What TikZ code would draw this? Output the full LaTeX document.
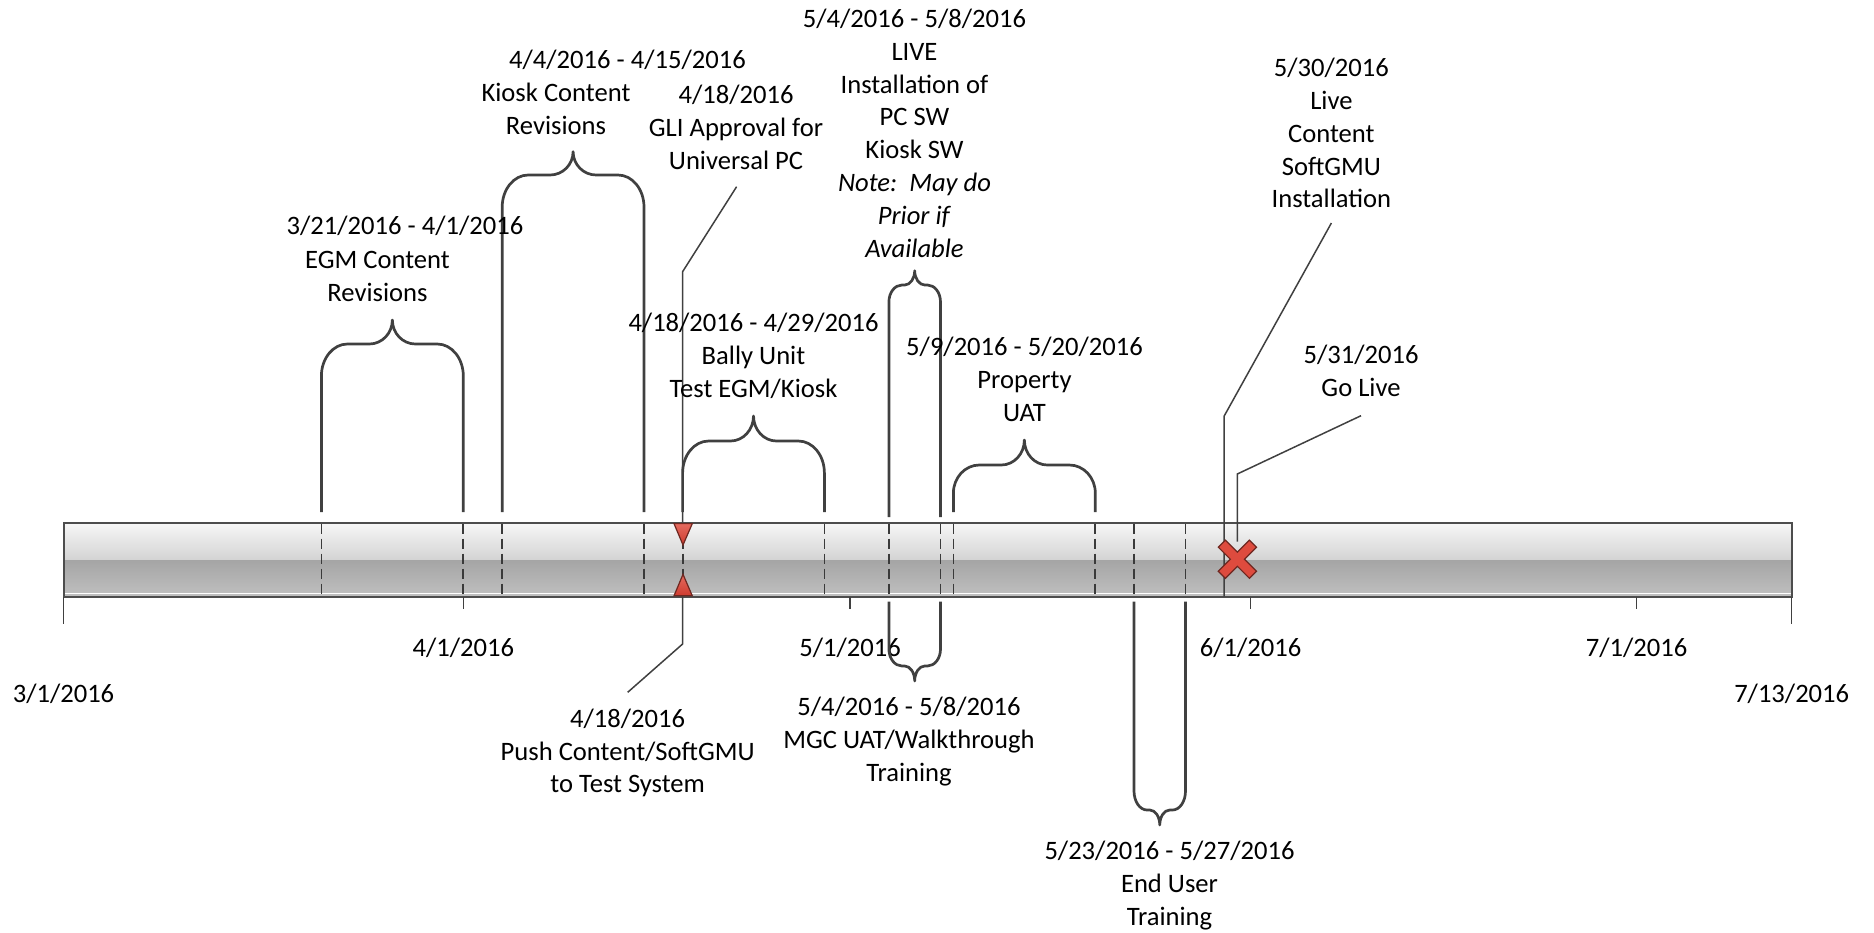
\documentclass[tikz,border=0pt]{standalone}
\usepackage{fontspec}
\setmainfont{Carlito}
\definecolor{linegray}{HTML}{404040}
\definecolor{bordergray}{HTML}{4D4D4D}
\definecolor{bartop}{HTML}{F7F7F7}
\definecolor{barmid}{HTML}{D3D3D3}
\definecolor{barlow}{HTML}{A5A5A5}
\definecolor{barbot}{HTML}{C0C0C0}
\definecolor{redlight}{HTML}{E56B5F}
\definecolor{reddark}{HTML}{CF3B2F}
\definecolor{redfill}{HTML}{DE4B3E}
\definecolor{redborder}{HTML}{6E2720}
\tikzset{
  lbl/.style={anchor=north, inner sep=0pt, outer sep=0pt, align=center,
    font=\fontsize{13.3pt}{16.4pt}\selectfont,
    execute at begin node=\strut, execute at end node=\strut},
  bracestyle/.style={draw=linegray, line width=1.35pt, line join=round},
  conn/.style={draw=linegray, line width=0.75pt},
  dashline/.style={draw=linegray!90!black, line width=0.9pt, dash pattern=on 5pt off 2.5pt},
  axistick/.style={draw=linegray, line width=0.75pt},
  marker/.style={draw=redborder, line width=0.6pt, top color=redlight, bottom color=reddark},
}
% #1 left x, #2 right x, #3 free end y, #4 horizontal y, #5 tip y,
% #6 corner rx, #7 signed corner ry, #8 tip half width
\newcommand{\drawbrace}[8]{%
  \pgfmathsetmacro{\bcx}{(#1+#2)/2}%
  \draw[bracestyle] (#1,#3) -- (#1,{#4+(#7)})
    .. controls (#1,{#4+(#7)*0.448}) and ({#1+#6*0.448},#4) .. ({#1+#6},#4)
    -- ({\bcx-#8},#4)
    .. controls ({\bcx-#8*0.448},#4) and (\bcx,{#5+(#4-#5)*0.552}) .. (\bcx,#5)
    .. controls (\bcx,{#5+(#4-#5)*0.552}) and ({\bcx+#8*0.448},#4) .. ({\bcx+#8},#4)
    -- ({#2-#6},#4)
    .. controls ({#2-#6*0.448},#4) and (#2,{#4+(#7)*0.448}) .. (#2,{#4+(#7)})
    -- (#2,#3);}
\begin{document}
\begin{tikzpicture}[x=0.5pt, y=-0.5pt]
\useasboundingbox (0,0) rectangle (1874,932);

% ---- timeline bar ----
\shade[top color=bartop, bottom color=barmid] (63.5,522.7) rectangle (1791.7,560);
\shade[top color=barlow, bottom color=barbot] (63.5,560) rectangle (1791.7,596.7);
\draw[white, line width=0.6pt] (64.5,593.6) -- (1790.7,593.6);
\draw[draw=bordergray, line width=1pt] (63.5,522.7) rectangle (1791.7,596.7);

% ---- dashed date lines inside the bar ----
\foreach \xx in {321.4,463.3,502.2,643.9,682.6,824.4,888.9,940.5,953.4,1095.3,1134,1185.5}
  \draw[dashline] (\xx,523.5) -- (\xx,596);

% ---- axis ticks ----
\coordinate (t0) at (63.5,596.7);   \coordinate (t0e) at (63.5,624);
\coordinate (t1) at (463.3,596.7);  \coordinate (t1e) at (463.3,608.7);
\coordinate (t2) at (850.2,596.7);  \coordinate (t2e) at (850.2,608.7);
\coordinate (t3) at (1250.5,596.7); \coordinate (t3e) at (1250.5,608.7);
\coordinate (t4) at (1636.5,596.7); \coordinate (t4e) at (1636.5,608.7);
\coordinate (t5) at (1791.7,596.7); \coordinate (t5e) at (1791.7,624);
\foreach \tk in {0,...,5} \draw[axistick] (t\tk) -- (t\tk e);

% ---- axis labels ----
\node[lbl] (d0) at (63.5,679.5) {3/1/2016};
\node[lbl] (d1) at (463.3,633.5) {4/1/2016};
\node[lbl] (d2) at (850.2,633.5) {5/1/2016};
\node[lbl] (d3) at (1250.5,633.5) {6/1/2016};
\node[lbl] (d4) at (1636.5,633.5) {7/1/2016};
\node[lbl] (d5) at (1791.7,679.5) {7/13/2016};

% ---- milestone connectors ----
\coordinate (gliA) at (682.6,522.7); \coordinate (gliB) at (682.6,271.7); \coordinate (gliC) at (736.6,186.7);
\draw[conn] (gliA) -- (gliB) -- (gliC);
\coordinate (pushA) at (682.6,596.7); \coordinate (pushB) at (682.6,644); \coordinate (pushC) at (627.7,692.3);
\draw[conn] (pushA) -- (pushB) -- (pushC);
\coordinate (liveA) at (1224.2,596.7); \coordinate (liveB) at (1224.2,416); \coordinate (liveC) at (1331.4,223);
\draw[conn] (liveA) -- (liveB) -- (liveC);
\coordinate (goA) at (1237.3,541.7); \coordinate (goB) at (1237.3,474); \coordinate (goC) at (1361,415.7);
\draw[conn] (goA) -- (goB) -- (goC);

% ---- markers ----
\shadedraw[marker] (674,523.6) -- (692.3,523.6) -- (683,545) -- cycle;
\shadedraw[marker] (674,595.8) -- (692.3,595.8) -- (683,574.3) -- cycle;
\begin{scope}[shift={(1237.4,559.2)}, rotate=45]
  \filldraw[fill=redfill, draw=redborder, line width=0.6pt]
    (5,5) -- (5,22) -- (-5,22) -- (-5,5) -- (-22,5) -- (-22,-5) -- (-5,-5)
    -- (-5,-22) -- (5,-22) -- (5,-5) -- (22,-5) -- (22,5) -- cycle;
\end{scope}

% ---- braces ----
\drawbrace{321.4}{463.3}{512}{344}{320}{26}{32}{23}
\drawbrace{502.2}{644}{512}{175}{151.7}{26}{32}{23}
\drawbrace{682.6}{824.4}{512}{441}{416}{26}{32}{23}
\drawbrace{953.4}{1095.3}{512}{465}{440}{26}{28}{23}
\drawbrace{888.9}{940.5}{517}{285}{270.7}{13}{17}{10}
\drawbrace{888.9}{940.5}{601.7}{666}{681}{13}{-17}{10}
\drawbrace{1134}{1185.5}{601.7}{810}{825}{13}{-19}{10}

% ---- labels ----
\node[lbl] (egmdate) at (405,212) {3/21/2016 - 4/1/2016};
\node[lbl] (egm) at (377.5,251.5) {EGM Content\\Revisions};
\node[lbl] (kioskdate) at (627.5,45.5) {4/4/2016 - 4/15/2016};
\node[lbl] (kiosk) at (556,83.2) {Kiosk Content\\Revisions};
\node[lbl] (gli) at (736,85.5) {4/18/2016\\GLI Approval for\\Universal PC};
\node[lbl] (live) at (914.5,9) {5/4/2016 - 5/8/2016\\LIVE\\Installation of\\PC SW\\Kiosk SW\\\textit{Note:\ \ May do}\\\textit{Prior if}\\\textit{Available}};
\node[lbl] (bally) at (753.5,313.5) {4/18/2016 - 4/29/2016\\Bally Unit\\Test EGM/Kiosk};
\node[lbl] (prop) at (1024.5,337.2) {5/9/2016 - 5/20/2016\\Property\\UAT};
\node[lbl] (soft) at (1331.4,58.2) {5/30/2016\\Live\\Content\\SoftGMU\\Installation};
\node[lbl] (golive) at (1361,345.5) {5/31/2016\\Go Live};
\node[lbl] (push) at (627.7,708.8) {4/18/2016\\Push Content/SoftGMU\\to Test System};
\node[lbl] (mgc) at (909,697.2) {5/4/2016 - 5/8/2016\\MGC UAT/Walkthrough\\Training};
\node[lbl] (enduser) at (1169.5,841.2) {5/23/2016 - 5/27/2016\\End User\\Training};
\end{tikzpicture}
\end{document}
